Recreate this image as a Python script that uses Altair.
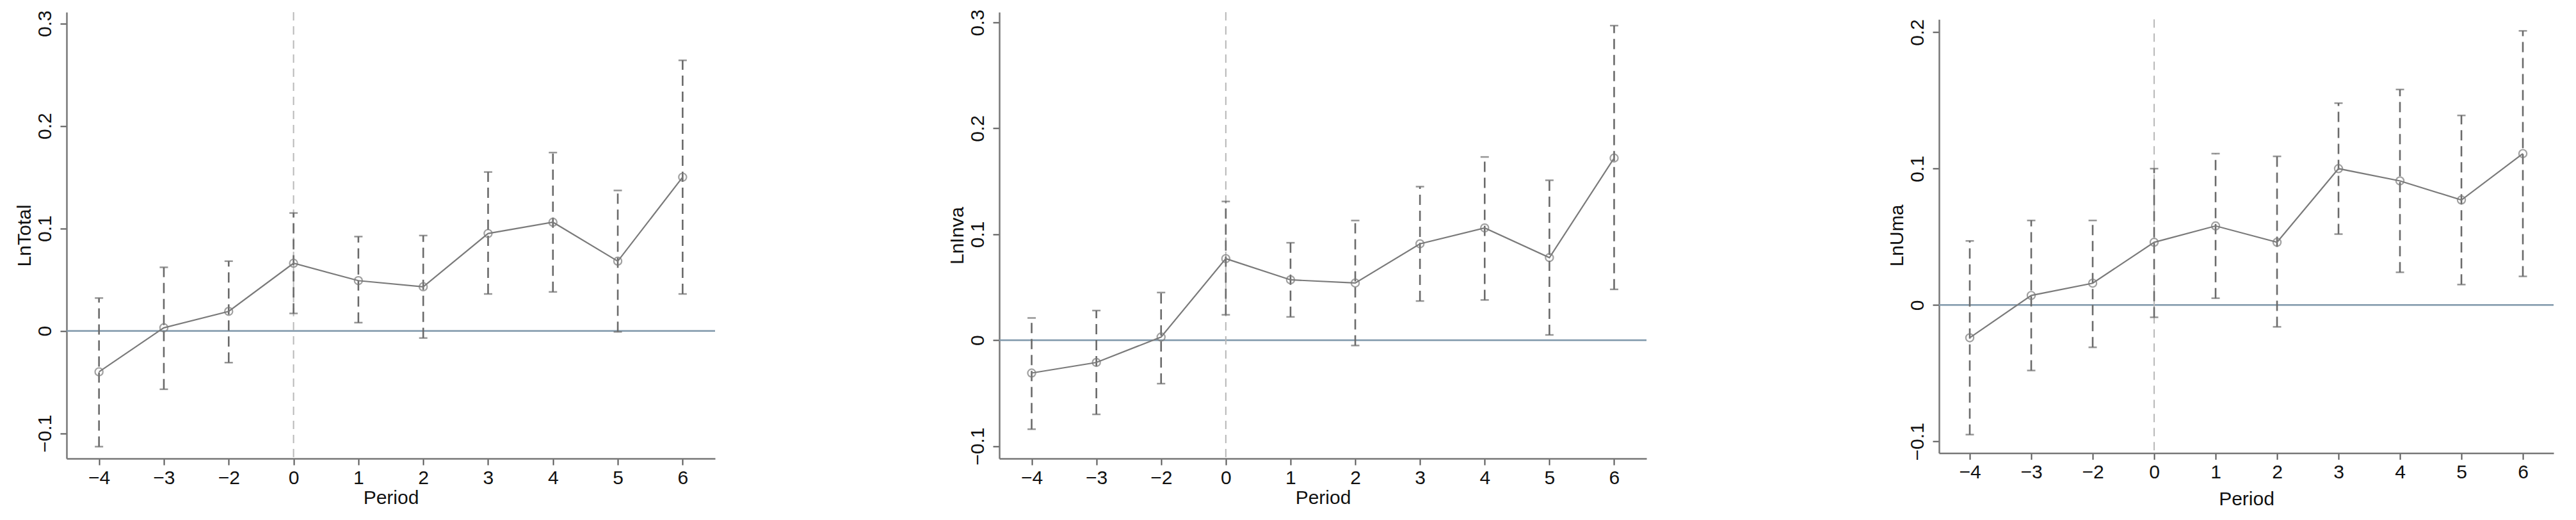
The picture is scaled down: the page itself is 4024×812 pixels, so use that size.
import altair as alt
import pandas as pd

# ---------------- data ----------------
periods = [-4, -3, -2, 0, 1, 2, 3, 4, 5, 6]
period_labels = ["−4", "−3", "−2", "0", "1", "2", "3", "4", "5", "6"]

lntotal_coef = [-0.040, 0.003, 0.019, 0.066, 0.049, 0.043, 0.095, 0.106, 0.068, 0.150]
lntotal_hi = [0.032, 0.062, 0.068, 0.115, 0.092, 0.093, 0.155, 0.174, 0.137, 0.264]
lntotal_lo = [-0.113, -0.057, -0.031, 0.017, 0.008, -0.007, 0.036, 0.038, -0.001, 0.036]

lninva_coef = [-0.031, -0.021, 0.003, 0.077, 0.057, 0.054, 0.091, 0.106, 0.078, 0.172]
lninva_hi = [0.021, 0.028, 0.045, 0.131, 0.092, 0.113, 0.145, 0.173, 0.151, 0.297]
lninva_lo = [-0.084, -0.070, -0.041, 0.024, 0.022, -0.005, 0.037, 0.038, 0.005, 0.048]

lnuma_coef = [-0.024, 0.007, 0.016, 0.046, 0.058, 0.046, 0.100, 0.091, 0.077, 0.111]
lnuma_hi = [0.047, 0.062, 0.062, 0.100, 0.111, 0.109, 0.148, 0.158, 0.139, 0.201]
lnuma_lo = [-0.095, -0.048, -0.031, -0.009, 0.005, -0.016, 0.052, 0.024, 0.015, 0.021]

FONT = "Liberation Sans"
LINE_GRAY = "#7a7a7a"
BAR_GRAY = "#6a6a6a"
ZERO_BLUE = "#7f97aa"
VLINE_GRAY = "#b8b8b8"


def panel(ytitle, coef, lo, hi, ydomain, yticks, width, height, xtitle_y,
          yrange=None, xoffset=0):
    df = pd.DataFrame({"period": period_labels, "coef": coef, "lo": lo, "hi": hi})

    xscale = alt.Scale(type="point", padding=0.5, domain=period_labels)
    if yrange is None:
        yscale = alt.Scale(domain=ydomain, nice=False, zero=False)
    else:
        yscale = alt.Scale(domain=ydomain, nice=False, zero=False, range=yrange)

    xaxis = alt.Axis(
        title="Period", labelAngle=0, labelBaseline="alphabetic", labelPadding=29,
        titleX=width / 2, titleY=xtitle_y, titleBaseline="alphabetic", titleAlign="center",
        offset=xoffset,
    )
    yaxis = alt.Axis(
        title=ytitle, values=yticks, labelAngle=270, labelAlign="center",
        labelBaseline="alphabetic", labelPadding=15,
        labelExpr="datum.value == 0 ? '0' : format(datum.value, '.1f')",
        titleX=-57, titleY=height / 2, titleAngle=270, titleAlign="center",
        titleBaseline="alphabetic",
    )

    def X():
        return alt.X("period:N", scale=xscale, sort=period_labels, axis=xaxis)

    def Y(field):
        return alt.Y(f"{field}:Q", scale=yscale, axis=yaxis)

    base = alt.Chart(df)

    zero = alt.Chart(pd.DataFrame({"z": [0.0]})).mark_rule(
        color=ZERO_BLUE, strokeWidth=2.5
    ).encode(y=Y("z"))

    vline = alt.Chart(pd.DataFrame({"period": ["0"], "ytop": [ydomain[1]], "ybot": [ydomain[0]]})).mark_rule(
        color=VLINE_GRAY, strokeWidth=2, strokeDash=[13, 9]
    ).encode(x=X(), y=Y("ytop"), y2="ybot:Q")

    bars = base.mark_rule(color=BAR_GRAY, strokeWidth=2.6, strokeDash=[16, 9]).encode(
        x=X(), y=Y("lo"), y2="hi:Q"
    )
    cap_hi = base.mark_tick(color=BAR_GRAY, size=13, thickness=2.5, orient="horizontal").encode(
        x=X(), y=Y("hi")
    )
    cap_lo = base.mark_tick(color=BAR_GRAY, size=13, thickness=2.5, orient="horizontal").encode(
        x=X(), y=Y("lo")
    )
    line = base.mark_line(color=LINE_GRAY, strokeWidth=2.2).encode(x=X(), y=Y("coef"))
    pts = base.mark_point(
        shape="circle", filled=False, color=LINE_GRAY, size=150, strokeWidth=2.2
    ).encode(x=X(), y=Y("coef"))

    return alt.layer(zero, vline, bars, cap_hi, cap_lo, line, pts).properties(
        width=width, height=height
    )


p1 = panel("LnTotal", lntotal_coef, lntotal_lo, lntotal_hi, [-0.1246, 0.311],
           [-0.1, 0, 0.1, 0.2, 0.3], 1013, 697, 70)
p2 = panel("LnInva", lninva_coef, lninva_lo, lninva_hi, [-0.1117, 0.3097],
           [-0.1, 0, 0.1, 0.2, 0.3], 1011, 697, 70)
p3 = panel("LnUma", lnuma_coef, lnuma_lo, lnuma_hi, [-0.1085, 0.2094],
           [-0.1, 0, 0.1, 0.2], 960, 697, 81, yrange=[688.4, 11.3], xoffset=-8.6)

chart = alt.hconcat(
    p1, alt.hconcat(p2, p3, spacing=374), spacing=361
).properties(
    padding={"left": 15, "top": 6, "right": 5, "bottom": 0}
).configure_view(stroke=None).configure_axis(
    grid=False,
    domainColor="#777777", domainWidth=2.5,
    tickColor="#555555", tickWidth=2, tickSize=10,
    labelFont=FONT, labelFontSize=30, labelColor="#111111",
    titleFont=FONT, titleFontSize=30, titleFontWeight="normal", titleColor="#111111",
)

chart.save("out.html", embed_options={"renderer": "svg", "actions": False})
